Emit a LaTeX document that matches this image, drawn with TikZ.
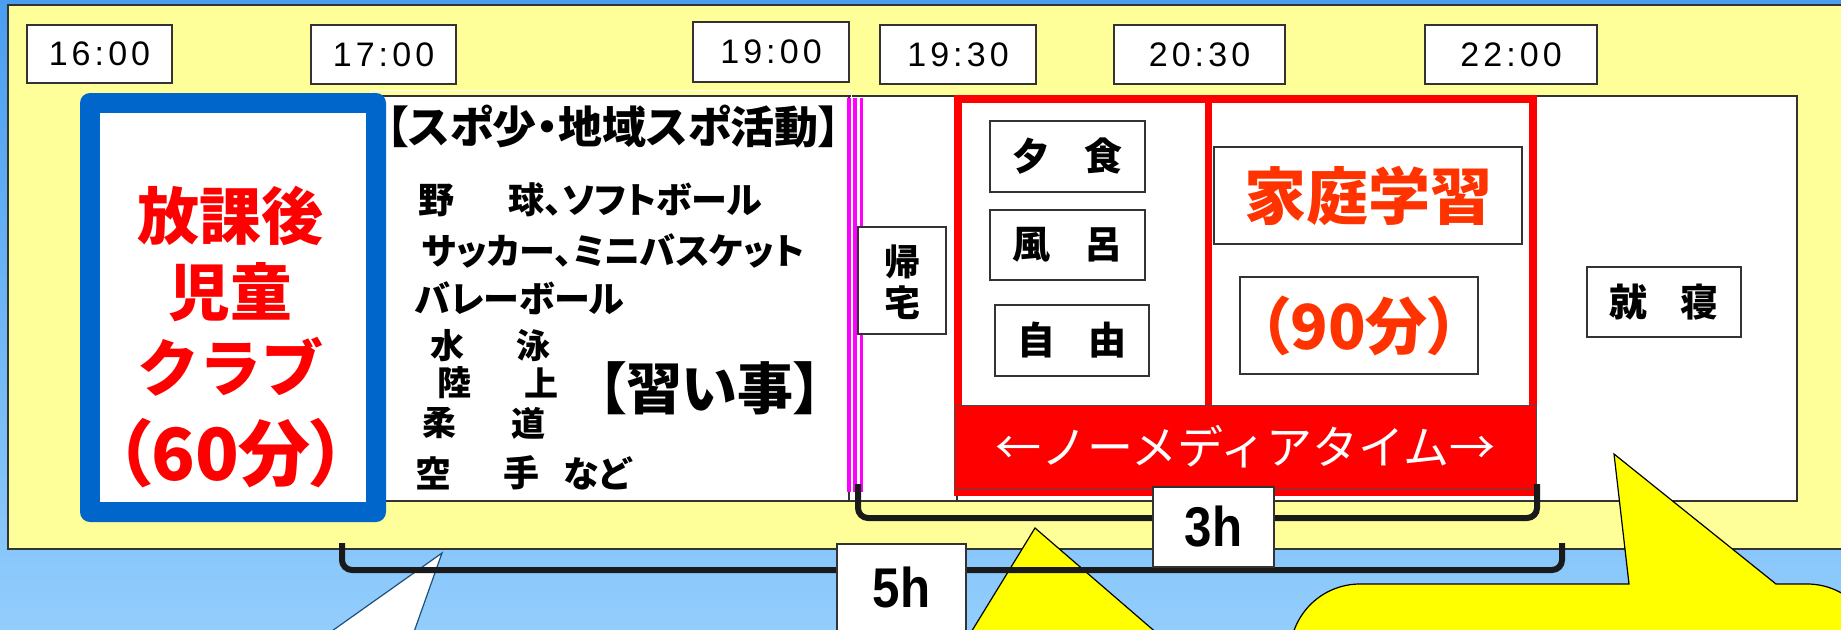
\documentclass[tikz,border=0pt]{standalone}
\usepackage{fontspec}
\usepackage{graphicx}
\newfontfamily\jp{Noto Sans CJK JP}[RawFeature=+palt]
\newfontfamily\jpm{Noto Sans CJK JP}
\newfontfamily\tfont{Liberation Sans}[LetterSpace=12]
\newfontfamily\hfont{Liberation Sans}
\newcommand\fsz[1]{\fontsize{#1}{#1}\selectfont}
\definecolor{bgtop}{HTML}{4A9EF0}
\definecolor{bglow}{HTML}{92CDFC}
\definecolor{yel}{HTML}{FFFF99}
\definecolor{cyel}{HTML}{FFFF00}
\definecolor{cblue}{HTML}{0066CC}
\definecolor{ored}{HTML}{FF3300}
\definecolor{mag}{HTML}{FF00FF}
\definecolor{brk}{HTML}{1A1A1A}
\definecolor{navy}{HTML}{1F4E79}
\tikzset{
  tbox/.style={draw=black!80, fill=white, line width=1.2pt, inner sep=0pt},
  timelbl/.style={tbox, font=\tfont\fsz{34}},
  lst/.style={inner sep=0pt, anchor=west, font=\jp\bfseries\fsz{36}},
  clubtxt/.style={inner sep=0pt, text=red, font=\jp\bfseries\fsz{62}},
  smallbox/.style={tbox, font=\jpm\bfseries\fsz{38}},
  bracket/.style={draw=brk, line width=6pt, rounded corners=10pt},
  hlbl/.style={tbox, font=\hfont\bfseries\fsz{56}},
}
\begin{document}
\begin{tikzpicture}[x=1pt,y=-1pt]
\useasboundingbox (0,0) rectangle (1841,629);
\clip (0,0) rectangle (1841,629);
\shade[top color=bgtop, middle color=bglow, bottom color=bglow] (0,0) rectangle (1841,629);
% yellow panel
\filldraw[fill=yel, draw=black!80, line width=1.2pt] (8,5) rectangle (1870,549);
% time boxes
\node[timelbl, minimum width=145, minimum height=58] (t16) at (99.5,54) {16:00};
\node[timelbl, minimum width=145, minimum height=59] (t17) at (383.5,54.5) {17:00};
\node[timelbl, minimum width=156, minimum height=60] (t19) at (771,52) {19:00};
\node[timelbl, minimum width=156, minimum height=59] (t1930) at (958,54.5) {19:30};
\node[timelbl, minimum width=171, minimum height=59] (t2030) at (1199.5,54.5) {20:30};
\node[timelbl, minimum width=172, minimum height=59] (t22) at (1511,54.5) {22:00};
% timeline white rects
\filldraw[fill=white, draw=black!80, line width=1.2pt] (360,96) rectangle (849,501);
\filldraw[fill=white, draw=black!80, line width=1.2pt] (849,96) rectangle (957,501);
\filldraw[fill=white, draw=black!80, line width=1.2pt] (957,96) rectangle (1797,501);
\draw[white, line width=1pt] (370,501) -- (370,90) -- (851,90) -- (851,98);
% club box
\node[fill=cblue, rounded corners=10pt, minimum width=306, minimum height=429, inner sep=0pt] (club) at (233,307.5) {};
\node[fill=white, minimum width=266, minimum height=389, inner sep=0pt] (clubin) at (233,307.5) {};
\node[clubtxt] (c1) at (230,216) {放課後};
\node[clubtxt] (c2) at (230,292) {児童};
\node[clubtxt, font=\jpm\bfseries\fsz{62}] (c3) at (230,367) {クラブ};
\node[clubtxt, font=\jp\bfseries\fsz{72}] (c4) at (231,453) {（60分）};
% sports text
\node[lst, font=\jp\bfseries\fsz{44}] (sp) at (386,127) {【スポ少・地域スポ活動】};
\node[lst] (s1a) at (418,200) {野};
\node[lst] (s1b) at (508,200) {球、ソフトボール};
\node[lst] (s2) at (422,251) {サッカー、ミニバスケット};
\node[lst] (s3) at (415,298) {バレーボール};
\node[lst, font=\jp\bfseries\fsz{34}] (s4a) at (430,346) {水};
\node[lst, font=\jp\bfseries\fsz{34}] (s4b) at (516,346) {泳};
\node[lst, font=\jp\bfseries\fsz{34}] (s5a) at (437,383) {陸};
\node[lst, font=\jp\bfseries\fsz{34}] (s5b) at (524,383) {上};
\node[lst, font=\jp\bfseries\fsz{34}] (s6a) at (422,423) {柔};
\node[lst, font=\jp\bfseries\fsz{34}] (s6b) at (511,423) {道};
\node[lst] (s7a) at (415,473) {空};
\node[lst] (s7b) at (503,473) {手};
\node[lst] (s7c) at (563,473) {など};
\node[lst, font=\jp\bfseries\fsz{56}] (nara) at (598,388) {【習い事】};
% pink lines
\draw[mag, line width=3.5pt] (849,98) -- (849,492);
\draw[mag, line width=4pt] (855,98) -- (855,492);
\draw[mag, line width=3.5pt] (861.5,98) -- (861.5,492);
% kitaku
\node[tbox, minimum width=88, minimum height=107] (kitaku) at (902,280.5) {};
\node[inner sep=0pt, font=\jpm\bfseries\fsz{36}] (k1) at (902,262) {帰};
\node[inner sep=0pt, font=\jpm\bfseries\fsz{36}] (k2) at (902,303) {宅};
% red frame
\draw[red, line width=8pt] (958,99) rectangle (1533,492);
\draw[red, line width=7pt] (1208,99) -- (1208,405);
\node[smallbox, minimum width=155, minimum height=71] (yu) at (1067.5,156.5) {夕\hspace{34pt}食};
\node[smallbox, minimum width=155, minimum height=70] (fu) at (1067.5,245) {風\hspace{34pt}呂};
\node[smallbox, minimum width=154, minimum height=71] (ji) at (1072,340.5) {自\hspace{34pt}由};
\node[tbox, minimum width=308, minimum height=97, text=ored, font=\jp\bfseries\fsz{62}] (study) at (1368,195.5) {家庭学習};
\node[tbox, minimum width=238, minimum height=97, text=ored, font=\jp\bfseries\fsz{62}] (min90) at (1359,325.5) {（90分）};
\node[draw=black!70, fill=red, line width=1pt, minimum width=581, minimum height=84, inner sep=0pt, text=white, font=\jpm\fsz{46}] (nomedia) at (1245.5,447) {←ノーメディアタイム→};
% shushin
\node[smallbox, minimum width=154, minimum height=70] (shu) at (1664,302) {就\hspace{34pt}寝};
% callouts
\filldraw[fill=white, draw=navy, line width=1.2pt] (291,660) -- (442,553) -- (404,660) -- cycle;
\filldraw[fill=cyel, draw=black, line width=1.2pt] (954,660) -- (1035,528) -- (1188,660) -- cycle;
\filldraw[fill=cyel, draw=black, line width=1.2pt] (1290,720) -- (1290,654) .. controls (1290,615.3) and (1321.3,584) .. (1360,584) -- (1629,584) -- (1614,454) -- (1776,584) -- (1807,584) .. controls (1845.7,584) and (1877,615.3) .. (1877,654) -- (1877,720) -- cycle;
% brackets
\coordinate (b3l) at (858,484);
\coordinate (b3r) at (1537,484);
\coordinate (b5l) at (342,543);
\coordinate (b5r) at (1562,543);
\draw[bracket] (b3l) -- (858,518) -- (1537,518) -- (b3r);
\draw[bracket] (b5l) -- (342,570) -- (1562,570) -- (b5r);
\node[hlbl, minimum width=121, minimum height=80] (h3) at (1213.5,527) {\scalebox{0.88}[1]{3h}};
\node[hlbl, minimum width=129, minimum height=96] (h5) at (901.5,592) {};
\node[inner sep=0pt, font=\hfont\bfseries\fsz{56}] (h5t) at (901.5,587) {\scalebox{0.88}[1]{5h}};
\end{tikzpicture}
\end{document}
